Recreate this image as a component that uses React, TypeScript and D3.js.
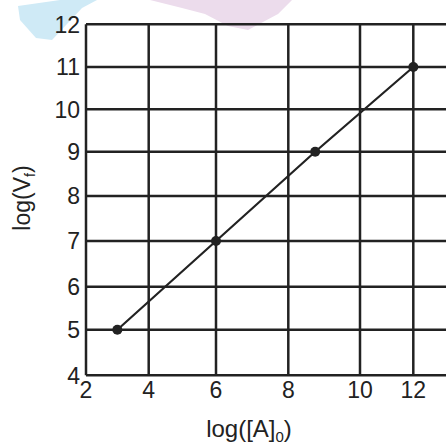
import * as d3 from "d3";

// data
const xTicks = [2, 4, 6, 8, 10, 12];
const yTicks = [4, 5, 6, 7, 8, 9, 10, 11, 12];
const xValues = [3, 6, 8.75, 12];
const yValues = [5, 7, 9, 11];

const W = 446;
const H = 444;

// the printed grid is not evenly spaced, so use piecewise scales
const x = d3
  .scaleLinear()
  .domain([2, 4, 6, 8, 10, 12, 13])
  .range([86, 148.7, 216, 288.3, 360, 413.3, 448]);
const y = d3
  .scaleLinear()
  .domain([4, 5, 6, 7, 8, 9, 10, 11, 12])
  .range([375.3, 329.7, 286.7, 241, 196, 151.7, 109.3, 67, 24.3]);

const font = "'Liberation Sans', Arial, sans-serif";
const ink = "#222";

export default function App() {
  const pts = xValues.map((v, i) => [x(v), y(yValues[i])] as [number, number]);
  const line = d3.line()(pts);
  const x0 = x(2);
  const x1 = x(13);

  return (
    <svg
      width={W}
      height={H}
      style={{ position: "absolute", left: 0, top: 0, background: "#fff" }}
    >
      {/* faint watermark */}
      <polygon
        points="18,6 60,0 97,0 82,8 52,40 36,38 20,20"
        fill="#cfeaf6"
      />
      <polygon
        points="150,0 292,0 278,14 248,30 228,26 205,14 182,8"
        fill="#ecdcec"
      />

      {/* grid */}
      {yTicks.map((t) => (
        <line
          key={"h" + t}
          x1={x0}
          x2={x1}
          y1={y(t)}
          y2={y(t)}
          stroke={ink}
          strokeWidth={2.5}
        />
      ))}
      {xTicks.map((t) => (
        <line
          key={"v" + t}
          x1={x(t)}
          x2={x(t)}
          y1={y(12)}
          y2={y(4)}
          stroke={ink}
          strokeWidth={2.5}
        />
      ))}

      {/* data */}
      <path d={line ?? ""} fill="none" stroke={ink} strokeWidth={2.2} />
      {pts.map(([px, py], i) => (
        <circle key={i} cx={px} cy={py} r={5} fill={ink} />
      ))}

      {/* tick labels */}
      {yTicks.map((t) => (
        <text
          key={"yl" + t}
          x={80}
          y={y(t)}
          dy="0.36em"
          textAnchor="end"
          fontFamily={font}
          fontSize={23}
          fill={ink}
        >
          {t}
        </text>
      ))}
      {xTicks.map((t) => (
        <text
          key={"xl" + t}
          x={x(t)}
          y={398}
          textAnchor="middle"
          fontFamily={font}
          fontSize={23}
          fill={ink}
        >
          {t}
        </text>
      ))}

      {/* axis titles */}
      <text
        x={249}
        y={437}
        textAnchor="middle"
        fontFamily={font}
        fontSize={24}
        fill={ink}
      >
        log([A]
        <tspan fontSize={15} dy={5}>
          0
        </tspan>
        <tspan dy={-5}>)</tspan>
      </text>
      <text
        transform="translate(30,198) rotate(-90)"
        textAnchor="middle"
        fontFamily={font}
        fontSize={23}
        fill={ink}
      >
        log(V
        <tspan fontSize={14} dy={5}>
          f
        </tspan>
        <tspan dy={-5}>)</tspan>
      </text>
    </svg>
  );
}
